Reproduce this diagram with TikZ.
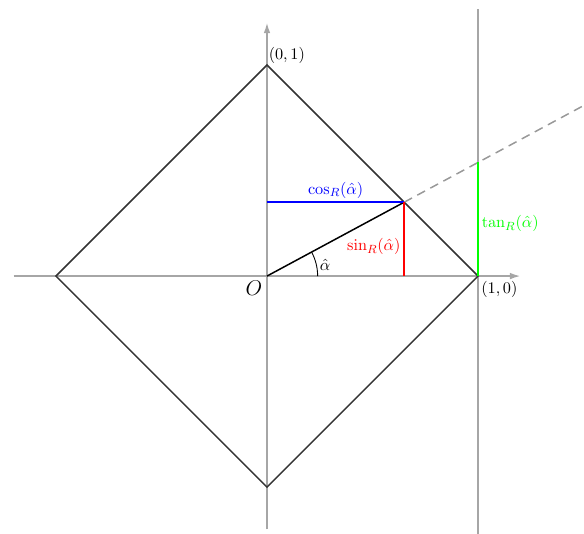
\documentclass[tikz,border=0pt]{standalone}
\usetikzlibrary{arrows.meta}
\begin{document}
\begin{tikzpicture}[x=5cm,y=5cm,
  axis/.style={gray!70,line width=1pt},
  diam/.style={black!80,line width=1pt},
  lbl/.style={inner sep=2pt,font=\fontsize{11}{13}\selectfont}]
\useasboundingbox (-1.265,-1.218) rectangle (1.502,1.308);
\coordinate (O) at (0,0);
\coordinate (E) at (1,0);
\coordinate (N) at (0,1);
\coordinate (W) at (-1,0);
\coordinate (S) at (0,-1);
\coordinate (P) at (0.65,0.35);
\coordinate (Py) at (0,0.35);
\coordinate (Px) at (0.65,0);
\coordinate (T) at (1,0.5385);
\coordinate (D) at (1.5,0.8077);
\coordinate (xl) at (-1.2,0);
\coordinate (xr) at (1.2,0);
\coordinate (yb) at (0,-1.2);
\coordinate (yt) at (0,1.2);
\coordinate (vt) at (1,1.265);
\coordinate (vb) at (1,-1.22);
% axes
\draw[axis,-{Latex[length=7pt,width=4.5pt]}] (xl) -- (xr);
\draw[axis,-{Latex[length=7pt,width=4.5pt]}] (yb) -- (yt);
\draw[axis] (vb) -- (vt);
% diamond
\draw[diam] (E) -- (N) -- (W) -- (S) -- cycle;
% ray
\draw[black,line width=1pt] (O) -- (P);
\draw[gray!80,line width=1pt,dash pattern=on 6pt off 4pt] (P) -- (D);
% cos, sin, tan
\draw[blue,line width=1pt] (Py) -- (P) node[midway,above,lbl,blue] {$\cos_R(\hat\alpha)$};
\draw[red,line width=1pt] (P) -- (Px) node[midway,left,lbl,red,yshift=-5pt] {$\sin_R(\hat\alpha)$};
\draw[green,line width=1pt] (E) -- (T) node[midway,right,lbl,green,yshift=-3pt] {$\tan_R(\hat\alpha)$};
% angle
\draw[black,line width=0.6pt] (0.24,0) arc (0:28.3:0.24);
\node[lbl] (al) at (0.275,0.055) {$\hat\alpha$};
% labels
\node[lbl,anchor=north east,font=\Large,inner sep=3pt] (lO) at (O) {$O$};
\node[lbl,anchor=north west,yshift=-1pt] (lE) at (E) {$(1,0)$};
\node[lbl,anchor=south west,inner sep=1pt] (lN) at (N) {$(0,1)$};
\end{tikzpicture}
\end{document}
